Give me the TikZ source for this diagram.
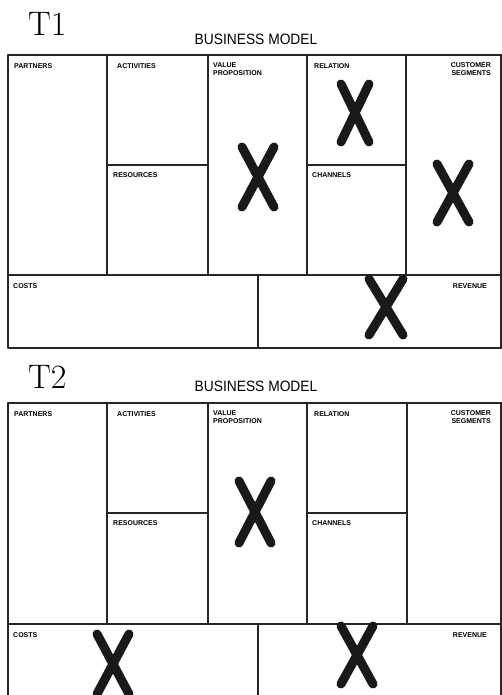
\documentclass[tikz,border=0pt]{standalone}
\usepackage{fontspec}
\setsansfont{Liberation Sans}
\begin{document}
\begin{tikzpicture}[x=1pt,y=-1pt,
  frame/.style={line width=1.6pt,draw=black!85,line cap=round,line join=round},
  cellhead/.style={font=\sffamily\bfseries\fontsize{7}{8.5}\selectfont,inner sep=0pt,text=black},
  titletext/.style={font=\sffamily\fontsize{15}{16}\selectfont,inner sep=0pt,xscale=0.92,text=black},
  tlabel/.style={font=\fontsize{34}{36}\selectfont,inner sep=0pt,text=black},
  xstroke/.style={line width=9pt,line cap=round,draw=black!90}]
\useasboundingbox (0,0) rectangle (502,695);
\newcommand\bigX[4]{%
  \draw[xstroke] (#1-#3,#2-#4) -- (#1+#3,#2+#4);
  \draw[xstroke] (#1+#3,#2-#4) -- (#1-#3,#2+#4);}
% ---------- panel 1 ----------
\node[tlabel,anchor=base west] (t1) at (28,36) {T1};
\node[titletext,anchor=base] (bm1) at (256,45) {BUSINESS MODEL};
\draw[frame] (502,55) -- (8,55) -- (8,348) -- (502,348);
\draw[frame] (501,55) -- (501,348);
\draw[frame] (8,275) -- (502,275);
\draw[frame] (107,55) -- (107,275);
\draw[frame] (208,55) -- (208,275);
\draw[frame] (307,55) -- (307,275);
\draw[frame] (406,55) -- (406,275);
\draw[frame] (258,275) -- (258,348);
\draw[frame] (107,165) -- (208,165);
\draw[frame] (307,165) -- (406,165);
\node[cellhead,anchor=north west] (p1) at (14,63) {PARTNERS};
\node[cellhead,anchor=north west] (a1) at (117,63) {ACTIVITIES};
\node[cellhead,anchor=north west,align=left] (v1) at (213,62) {VALUE\\PROPOSITION};
\node[cellhead,anchor=north west] (r1) at (314,63) {RELATION};
\node[cellhead,anchor=north east,align=right] (c1) at (491,62) {CUSTOMER\\SEGMENTS};
\node[cellhead,anchor=north west] (re1) at (113,172) {RESOURCES};
\node[cellhead,anchor=north west] (ch1) at (312,172) {CHANNELS};
\node[cellhead,anchor=north west] (co1) at (13,283) {COSTS};
\node[cellhead,anchor=north east] (rv1) at (487,283) {REVENUE};
\bigX{258}{177}{16}{30}
\bigX{355}{113}{14}{29}
\bigX{453}{193}{16}{29}
\bigX{386}{307}{17}{28}
% ---------- panel 2 ----------
\node[tlabel,anchor=base west] (t2) at (28,388) {T2};
\node[titletext,anchor=base] (bm2) at (256,391) {BUSINESS MODEL};
\draw[frame] (502,403) -- (8,403) -- (8,700);
\draw[frame] (501,403) -- (501,700);
\draw[frame] (8,624) -- (502,624);
\draw[frame] (107,403) -- (107,624);
\draw[frame] (208,403) -- (208,624);
\draw[frame] (307,403) -- (307,624);
\draw[frame] (407,403) -- (407,624);
\draw[frame] (258,624) -- (258,700);
\draw[frame] (107,513) -- (208,513);
\draw[frame] (307,513) -- (407,513);
\node[cellhead,anchor=north west] (p2) at (14,411) {PARTNERS};
\node[cellhead,anchor=north west] (a2) at (117,411) {ACTIVITIES};
\node[cellhead,anchor=north west,align=left] (v2) at (213,410) {VALUE\\PROPOSITION};
\node[cellhead,anchor=north west] (r2) at (314,411) {RELATION};
\node[cellhead,anchor=north east,align=right] (c2) at (491,410) {CUSTOMER\\SEGMENTS};
\node[cellhead,anchor=north west] (re2) at (113,520) {RESOURCES};
\node[cellhead,anchor=north west] (ch2) at (312,520) {CHANNELS};
\node[cellhead,anchor=north west] (co2) at (13,632) {COSTS};
\node[cellhead,anchor=north east] (rv2) at (487,632) {REVENUE};
\bigX{255}{512}{16}{31}
\bigX{113}{664}{16}{30}
\bigX{357}{655}{16}{29}
\end{tikzpicture}
\end{document}
